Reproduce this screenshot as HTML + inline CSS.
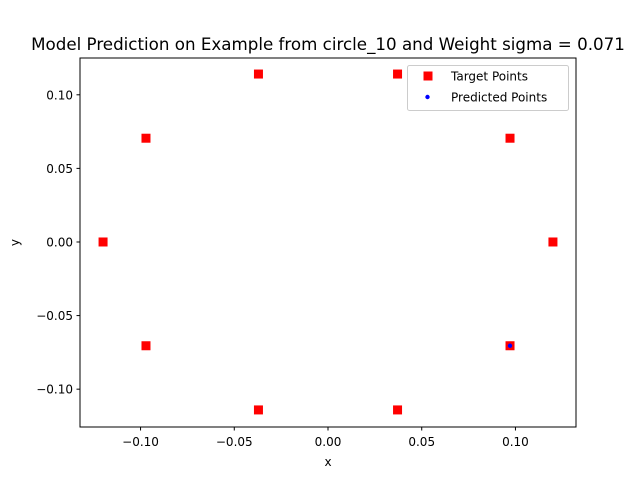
<!DOCTYPE html>
<html><head><meta charset="utf-8"><style>
body{margin:0;background:#fff}
svg{font-family:"DejaVu Sans","Liberation Sans",sans-serif}
</style></head><body>
<svg id="c" width="640" height="480">
<rect width="640" height="480" fill="#fff"/>
</svg>
<script>
const targetX=[0.12,0.0971,0.0371,-0.0371,-0.0971,-0.12,-0.0971,-0.0371,0.0371,0.0971];
const targetY=[0,0.0705,0.1141,0.1141,0.0705,0,-0.0705,-0.1141,-0.1141,-0.0705];
const predX=[0.0971];
const predY=[-0.0705];
const xTicks=[-0.10,-0.05,0.00,0.05,0.10];
const xTickLabels=["−0.10","−0.05","0.00","0.05","0.10"];
const yTicks=[-0.10,-0.05,0.00,0.05,0.10];
const yTickLabels=["−0.10","−0.05","0.00","0.05","0.10"];
const L=80,R=576,T=58,B=427;
const xmin=-0.1323,xmax=0.1323,ymin=-0.1257,ymax=0.125;
const sx=v=>L+(v-xmin)/(xmax-xmin)*(R-L);
const sy=v=>B-(v-ymin)/(ymax-ymin)*(B-T);
const svg=document.getElementById('c');
const NS='http://www.w3.org/2000/svg';
function mk(t,a,p){const e=document.createElementNS(NS,t);for(const k in a)e.setAttribute(k,a[k]);(p||svg).appendChild(e);return e;}
let e;
targetX.forEach((x,i)=>{
 e=mk('rect',{x:sx(x)-4.5,y:sy(targetY[i])-4.5,width:9,height:9,fill:'#ff0000'});
 
 
});
predX.forEach((x,i)=>{
 e=mk('circle',{cx:sx(x),cy:sy(predY[i]),r:2.2,fill:'#0000ff'});
 
 
});
e=mk('rect',{x:L,y:T,width:R-L,height:B-T,fill:'none',stroke:'#000','stroke-width':1});


xTicks.forEach((v,i)=>{
 const x=sx(v);
 mk('line',{x1:x,y1:B,x2:x,y2:B+3.5,stroke:'#000'});
 e=mk('text',{x:x,y:B+19,'font-size':12,'text-anchor':'middle'});e.textContent=xTickLabels[i];
 
 
});
yTicks.forEach((v,i)=>{
 const y=sy(v);
 mk('line',{x1:L,y1:y,x2:L-3.5,y2:y,stroke:'#000'});
 e=mk('text',{x:L-7,y:y+4.5,'font-size':12,'text-anchor':'end'});e.textContent=yTickLabels[i];
 
 
});
e=mk('text',{x:(L+R)/2,y:466,'font-size':12,'text-anchor':'middle'});e.textContent='x';


e=mk('text',{x:19,y:(T+B)/2,'font-size':12,'text-anchor':'middle',transform:`rotate(-90 19 ${(T+B)/2})`});e.textContent='y';


e=mk('text',{x:(L+R)/2,y:50,'font-size':16.7,'text-anchor':'middle'});e.textContent='Model Prediction on Example from circle_10 and Weight sigma = 0.071';


const g=mk('g',{});


mk('rect',{x:407.5,y:65.5,width:161,height:45,rx:2,fill:'#fff','fill-opacity':0.8,stroke:'#ccc'},g);
mk('rect',{x:423.5,y:71.5,width:9,height:9,fill:'#ff0000'},g);
e=mk('text',{x:451,y:80.5,'font-size':12},g);e.textContent='Target Points';


mk('circle',{cx:427.5,cy:97,r:2.2,fill:'#0000ff'},g);
e=mk('text',{x:451,y:101.5,'font-size':12},g);e.textContent='Predicted Points';


</script>
</body></html>
